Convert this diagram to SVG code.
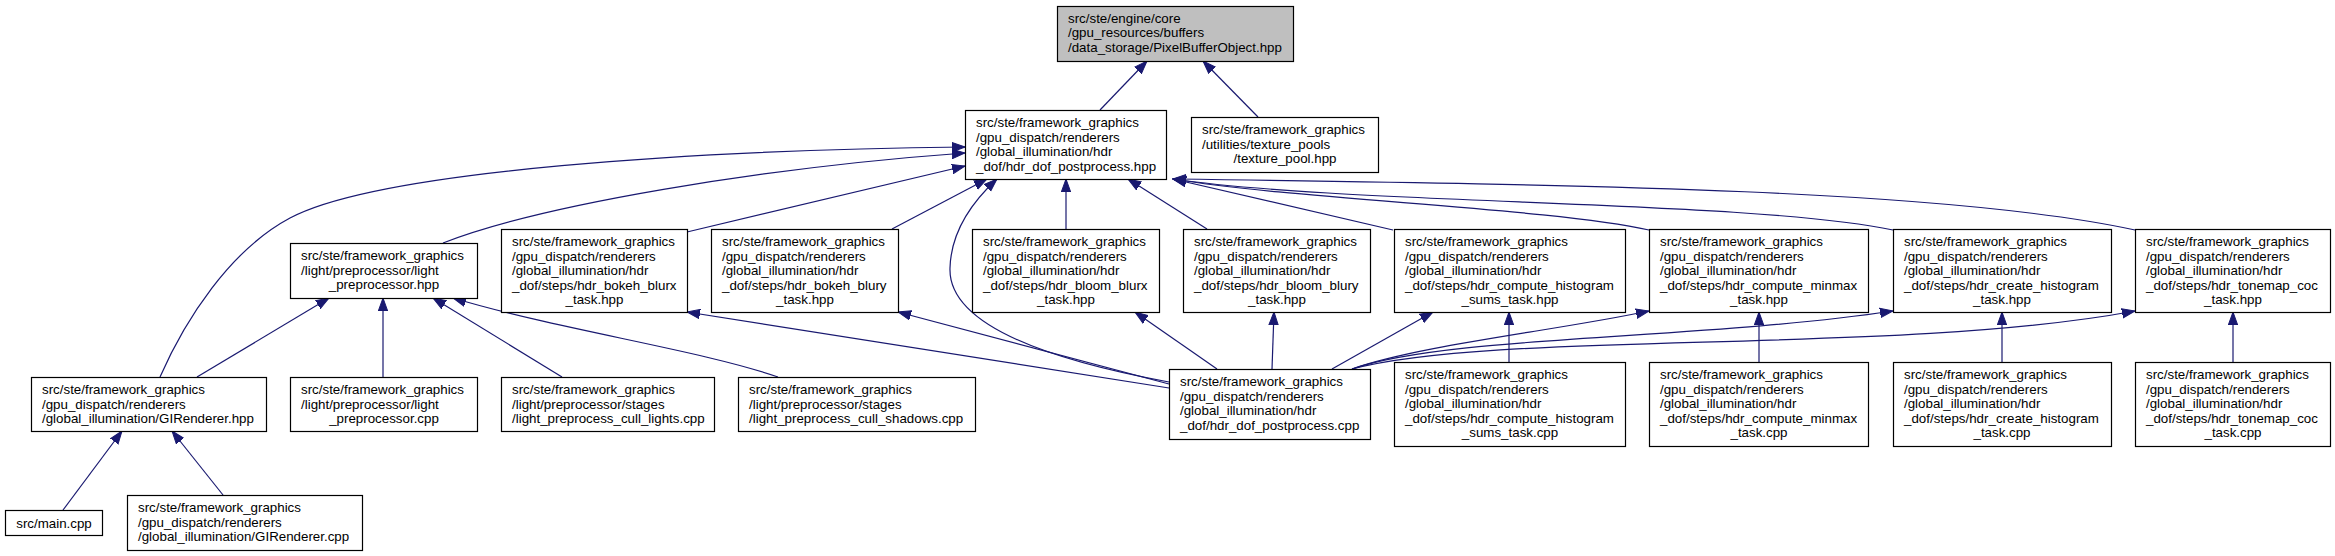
<svg xmlns="http://www.w3.org/2000/svg" width="2335" height="556" viewBox="0 0 2335 556">
<style>
.n rect{fill:#ffffff;stroke:#000000;stroke-width:1.2}
.n.root rect{fill:#bfbfbf}
.n text{font-family:"Liberation Sans",Arial,Helvetica,sans-serif;font-size:13.33px;fill:#000000}
.c{text-anchor:middle}
.e path{fill:none;stroke:#191970;stroke-width:1.2;marker-end:url(#ah)}
</style>
<defs>
<marker id="ah" markerUnits="userSpaceOnUse" markerWidth="14" markerHeight="11" viewBox="0 0 14 11" refX="13" refY="5.5" orient="auto">
<path d="M0,0.8 L13,5.5 L0,10.2 z" fill="#191970" stroke="#191970" stroke-width="1"/>
</marker>
</defs>
<rect width="2335" height="556" fill="#ffffff"/>
<g id="edges" class="e">
<path d="M1100,110 L1147,61"/>
<path d="M1258,117 L1203,61"/>
<path d="M160,377 C185,320 230,250 290,218 C380,170 700,150 965,147"/>
<path d="M443,243 C540,205 760,168 965,153"/>
<path d="M687,232 L965,166"/>
<path d="M892,229 L987,179"/>
<path d="M1169,382 C1050,360 948,325 950,268 C951,232 972,202 997,179"/>
<path d="M1066,229 L1066,179"/>
<path d="M1207,229 L1128,179"/>
<path d="M1393,230 L1173,179"/>
<path d="M1649,230 C1550,208 1300,200 1173,179"/>
<path d="M1893,230 C1750,200 1350,205 1173,179"/>
<path d="M2135,230 C1950,190 1600,185 1173,179"/>
<path d="M1169,384 L898,312"/>
<path d="M1169,388 L687,312"/>
<path d="M1217,369 L1135,312"/>
<path d="M1272,369 L1274,312"/>
<path d="M1332,369 L1433,312"/>
<path d="M1352,369 C1420,345 1560,330 1649,311"/>
<path d="M1352,369 C1450,335 1700,340 1893,311"/>
<path d="M1352,369 C1500,330 1900,355 2135,311"/>
<path d="M1509,362 L1509,312"/>
<path d="M1759,362 L1759,312"/>
<path d="M2002,362 L2002,312"/>
<path d="M2233,362 L2233,312"/>
<path d="M197,377 L329,298"/>
<path d="M383,377 L383,298"/>
<path d="M562,377 L433,298"/>
<path d="M778,377 C700,350 560,330 453,298"/>
<path d="M63,510 L122,431"/>
<path d="M223,495 L172,431"/>
</g>
<g id="node_pbo" class="n root"><rect x="1057.5" y="6.5" width="236" height="55"/>
<text x="1068" y="22.5">src/ste/engine/core<tspan x="1068" dy="14.6">/gpu_resources/buffers</tspan><tspan x="1068" dy="14.6">/data_storage/PixelBufferObject.hpp</tspan></text></g>
<g id="node_hdr_hpp" class="n"><rect x="965.5" y="110.5" width="201" height="69"/>
<text x="976" y="127">src/ste/framework_graphics<tspan x="976" dy="14.6">/gpu_dispatch/renderers</tspan><tspan x="976" dy="14.6">/global_illumination/hdr</tspan><tspan x="976" dy="14.6">_dof/hdr_dof_postprocess.hpp</tspan></text></g>
<g id="node_texpool" class="n"><rect x="1191.5" y="117.5" width="187" height="55"/>
<text x="1202" y="134">src/ste/framework_graphics<tspan x="1202" dy="14.6">/utilities/texture_pools</tspan><tspan class="c" x="1285" dy="14.6">/texture_pool.hpp</tspan></text></g>
<g id="node_lp_hpp" class="n"><rect x="290.5" y="243.5" width="187" height="55"/>
<text x="301" y="260">src/ste/framework_graphics<tspan x="301" dy="14.6">/light/preprocessor/light</tspan><tspan class="c" x="384" dy="14.6">_preprocessor.hpp</tspan></text></g>
<g id="node_bokeh_blurx" class="n"><rect x="501.5" y="229.5" width="186" height="83"/>
<text x="512" y="246">src/ste/framework_graphics<tspan x="512" dy="14.6">/gpu_dispatch/renderers</tspan><tspan x="512" dy="14.6">/global_illumination/hdr</tspan><tspan x="512" dy="14.6">_dof/steps/hdr_bokeh_blurx</tspan><tspan class="c" x="594.5" dy="14.6">_task.hpp</tspan></text></g>
<g id="node_bokeh_blury" class="n"><rect x="711.5" y="229.5" width="187" height="83"/>
<text x="722" y="246">src/ste/framework_graphics<tspan x="722" dy="14.6">/gpu_dispatch/renderers</tspan><tspan x="722" dy="14.6">/global_illumination/hdr</tspan><tspan x="722" dy="14.6">_dof/steps/hdr_bokeh_blury</tspan><tspan class="c" x="805" dy="14.6">_task.hpp</tspan></text></g>
<g id="node_bloom_blurx" class="n"><rect x="972.5" y="229.5" width="187" height="83"/>
<text x="983" y="246">src/ste/framework_graphics<tspan x="983" dy="14.6">/gpu_dispatch/renderers</tspan><tspan x="983" dy="14.6">/global_illumination/hdr</tspan><tspan x="983" dy="14.6">_dof/steps/hdr_bloom_blurx</tspan><tspan class="c" x="1066" dy="14.6">_task.hpp</tspan></text></g>
<g id="node_bloom_blury" class="n"><rect x="1183.5" y="229.5" width="187" height="83"/>
<text x="1194" y="246">src/ste/framework_graphics<tspan x="1194" dy="14.6">/gpu_dispatch/renderers</tspan><tspan x="1194" dy="14.6">/global_illumination/hdr</tspan><tspan x="1194" dy="14.6">_dof/steps/hdr_bloom_blury</tspan><tspan class="c" x="1277" dy="14.6">_task.hpp</tspan></text></g>
<g id="node_hist_sums_hpp" class="n"><rect x="1394.5" y="229.5" width="231" height="83"/>
<text x="1405" y="246">src/ste/framework_graphics<tspan x="1405" dy="14.6">/gpu_dispatch/renderers</tspan><tspan x="1405" dy="14.6">/global_illumination/hdr</tspan><tspan x="1405" dy="14.6">_dof/steps/hdr_compute_histogram</tspan><tspan class="c" x="1510" dy="14.6">_sums_task.hpp</tspan></text></g>
<g id="node_minmax_hpp" class="n"><rect x="1649.5" y="229.5" width="219" height="83"/>
<text x="1660" y="246">src/ste/framework_graphics<tspan x="1660" dy="14.6">/gpu_dispatch/renderers</tspan><tspan x="1660" dy="14.6">/global_illumination/hdr</tspan><tspan x="1660" dy="14.6">_dof/steps/hdr_compute_minmax</tspan><tspan class="c" x="1759" dy="14.6">_task.hpp</tspan></text></g>
<g id="node_create_hist_hpp" class="n"><rect x="1893.5" y="229.5" width="218" height="83"/>
<text x="1904" y="246">src/ste/framework_graphics<tspan x="1904" dy="14.6">/gpu_dispatch/renderers</tspan><tspan x="1904" dy="14.6">/global_illumination/hdr</tspan><tspan x="1904" dy="14.6">_dof/steps/hdr_create_histogram</tspan><tspan class="c" x="2002" dy="14.6">_task.hpp</tspan></text></g>
<g id="node_tonemap_hpp" class="n"><rect x="2135.5" y="229.5" width="195" height="83"/>
<text x="2146" y="246">src/ste/framework_graphics<tspan x="2146" dy="14.6">/gpu_dispatch/renderers</tspan><tspan x="2146" dy="14.6">/global_illumination/hdr</tspan><tspan x="2146" dy="14.6">_dof/steps/hdr_tonemap_coc</tspan><tspan class="c" x="2233" dy="14.6">_task.hpp</tspan></text></g>
<g id="node_gi_hpp" class="n"><rect x="31.5" y="377.5" width="235" height="54"/>
<text x="42" y="394">src/ste/framework_graphics<tspan x="42" dy="14.6">/gpu_dispatch/renderers</tspan><tspan x="42" dy="14.6">/global_illumination/GIRenderer.hpp</tspan></text></g>
<g id="node_lp_cpp" class="n"><rect x="290.5" y="377.5" width="187" height="54"/>
<text x="301" y="394">src/ste/framework_graphics<tspan x="301" dy="14.6">/light/preprocessor/light</tspan><tspan class="c" x="384" dy="14.6">_preprocessor.cpp</tspan></text></g>
<g id="node_cull_lights" class="n"><rect x="501.5" y="377.5" width="213" height="54"/>
<text x="512" y="394">src/ste/framework_graphics<tspan x="512" dy="14.6">/light/preprocessor/stages</tspan><tspan x="512" dy="14.6">/light_preprocess_cull_lights.cpp</tspan></text></g>
<g id="node_cull_shadows" class="n"><rect x="738.5" y="377.5" width="237" height="54"/>
<text x="749" y="394">src/ste/framework_graphics<tspan x="749" dy="14.6">/light/preprocessor/stages</tspan><tspan x="749" dy="14.6">/light_preprocess_cull_shadows.cpp</tspan></text></g>
<g id="node_hdr_cpp" class="n"><rect x="1169.5" y="369.5" width="201" height="70"/>
<text x="1180" y="386">src/ste/framework_graphics<tspan x="1180" dy="14.6">/gpu_dispatch/renderers</tspan><tspan x="1180" dy="14.6">/global_illumination/hdr</tspan><tspan x="1180" dy="14.6">_dof/hdr_dof_postprocess.cpp</tspan></text></g>
<g id="node_hist_sums_cpp" class="n"><rect x="1394.5" y="362.5" width="231" height="84"/>
<text x="1405" y="379">src/ste/framework_graphics<tspan x="1405" dy="14.6">/gpu_dispatch/renderers</tspan><tspan x="1405" dy="14.6">/global_illumination/hdr</tspan><tspan x="1405" dy="14.6">_dof/steps/hdr_compute_histogram</tspan><tspan class="c" x="1510" dy="14.6">_sums_task.cpp</tspan></text></g>
<g id="node_minmax_cpp" class="n"><rect x="1649.5" y="362.5" width="219" height="84"/>
<text x="1660" y="379">src/ste/framework_graphics<tspan x="1660" dy="14.6">/gpu_dispatch/renderers</tspan><tspan x="1660" dy="14.6">/global_illumination/hdr</tspan><tspan x="1660" dy="14.6">_dof/steps/hdr_compute_minmax</tspan><tspan class="c" x="1759" dy="14.6">_task.cpp</tspan></text></g>
<g id="node_create_hist_cpp" class="n"><rect x="1893.5" y="362.5" width="218" height="84"/>
<text x="1904" y="379">src/ste/framework_graphics<tspan x="1904" dy="14.6">/gpu_dispatch/renderers</tspan><tspan x="1904" dy="14.6">/global_illumination/hdr</tspan><tspan x="1904" dy="14.6">_dof/steps/hdr_create_histogram</tspan><tspan class="c" x="2002" dy="14.6">_task.cpp</tspan></text></g>
<g id="node_tonemap_cpp" class="n"><rect x="2135.5" y="362.5" width="195" height="84"/>
<text x="2146" y="379">src/ste/framework_graphics<tspan x="2146" dy="14.6">/gpu_dispatch/renderers</tspan><tspan x="2146" dy="14.6">/global_illumination/hdr</tspan><tspan x="2146" dy="14.6">_dof/steps/hdr_tonemap_coc</tspan><tspan class="c" x="2233" dy="14.6">_task.cpp</tspan></text></g>
<g id="node_main" class="n"><rect x="5.5" y="510.5" width="97" height="25"/>
<text class="c" x="54" y="527.5">src/main.cpp</text></g>
<g id="node_gi_cpp" class="n"><rect x="127.5" y="495.5" width="235" height="55"/>
<text x="138" y="512">src/ste/framework_graphics<tspan x="138" dy="14.6">/gpu_dispatch/renderers</tspan><tspan x="138" dy="14.6">/global_illumination/GIRenderer.cpp</tspan></text></g>
</svg>
